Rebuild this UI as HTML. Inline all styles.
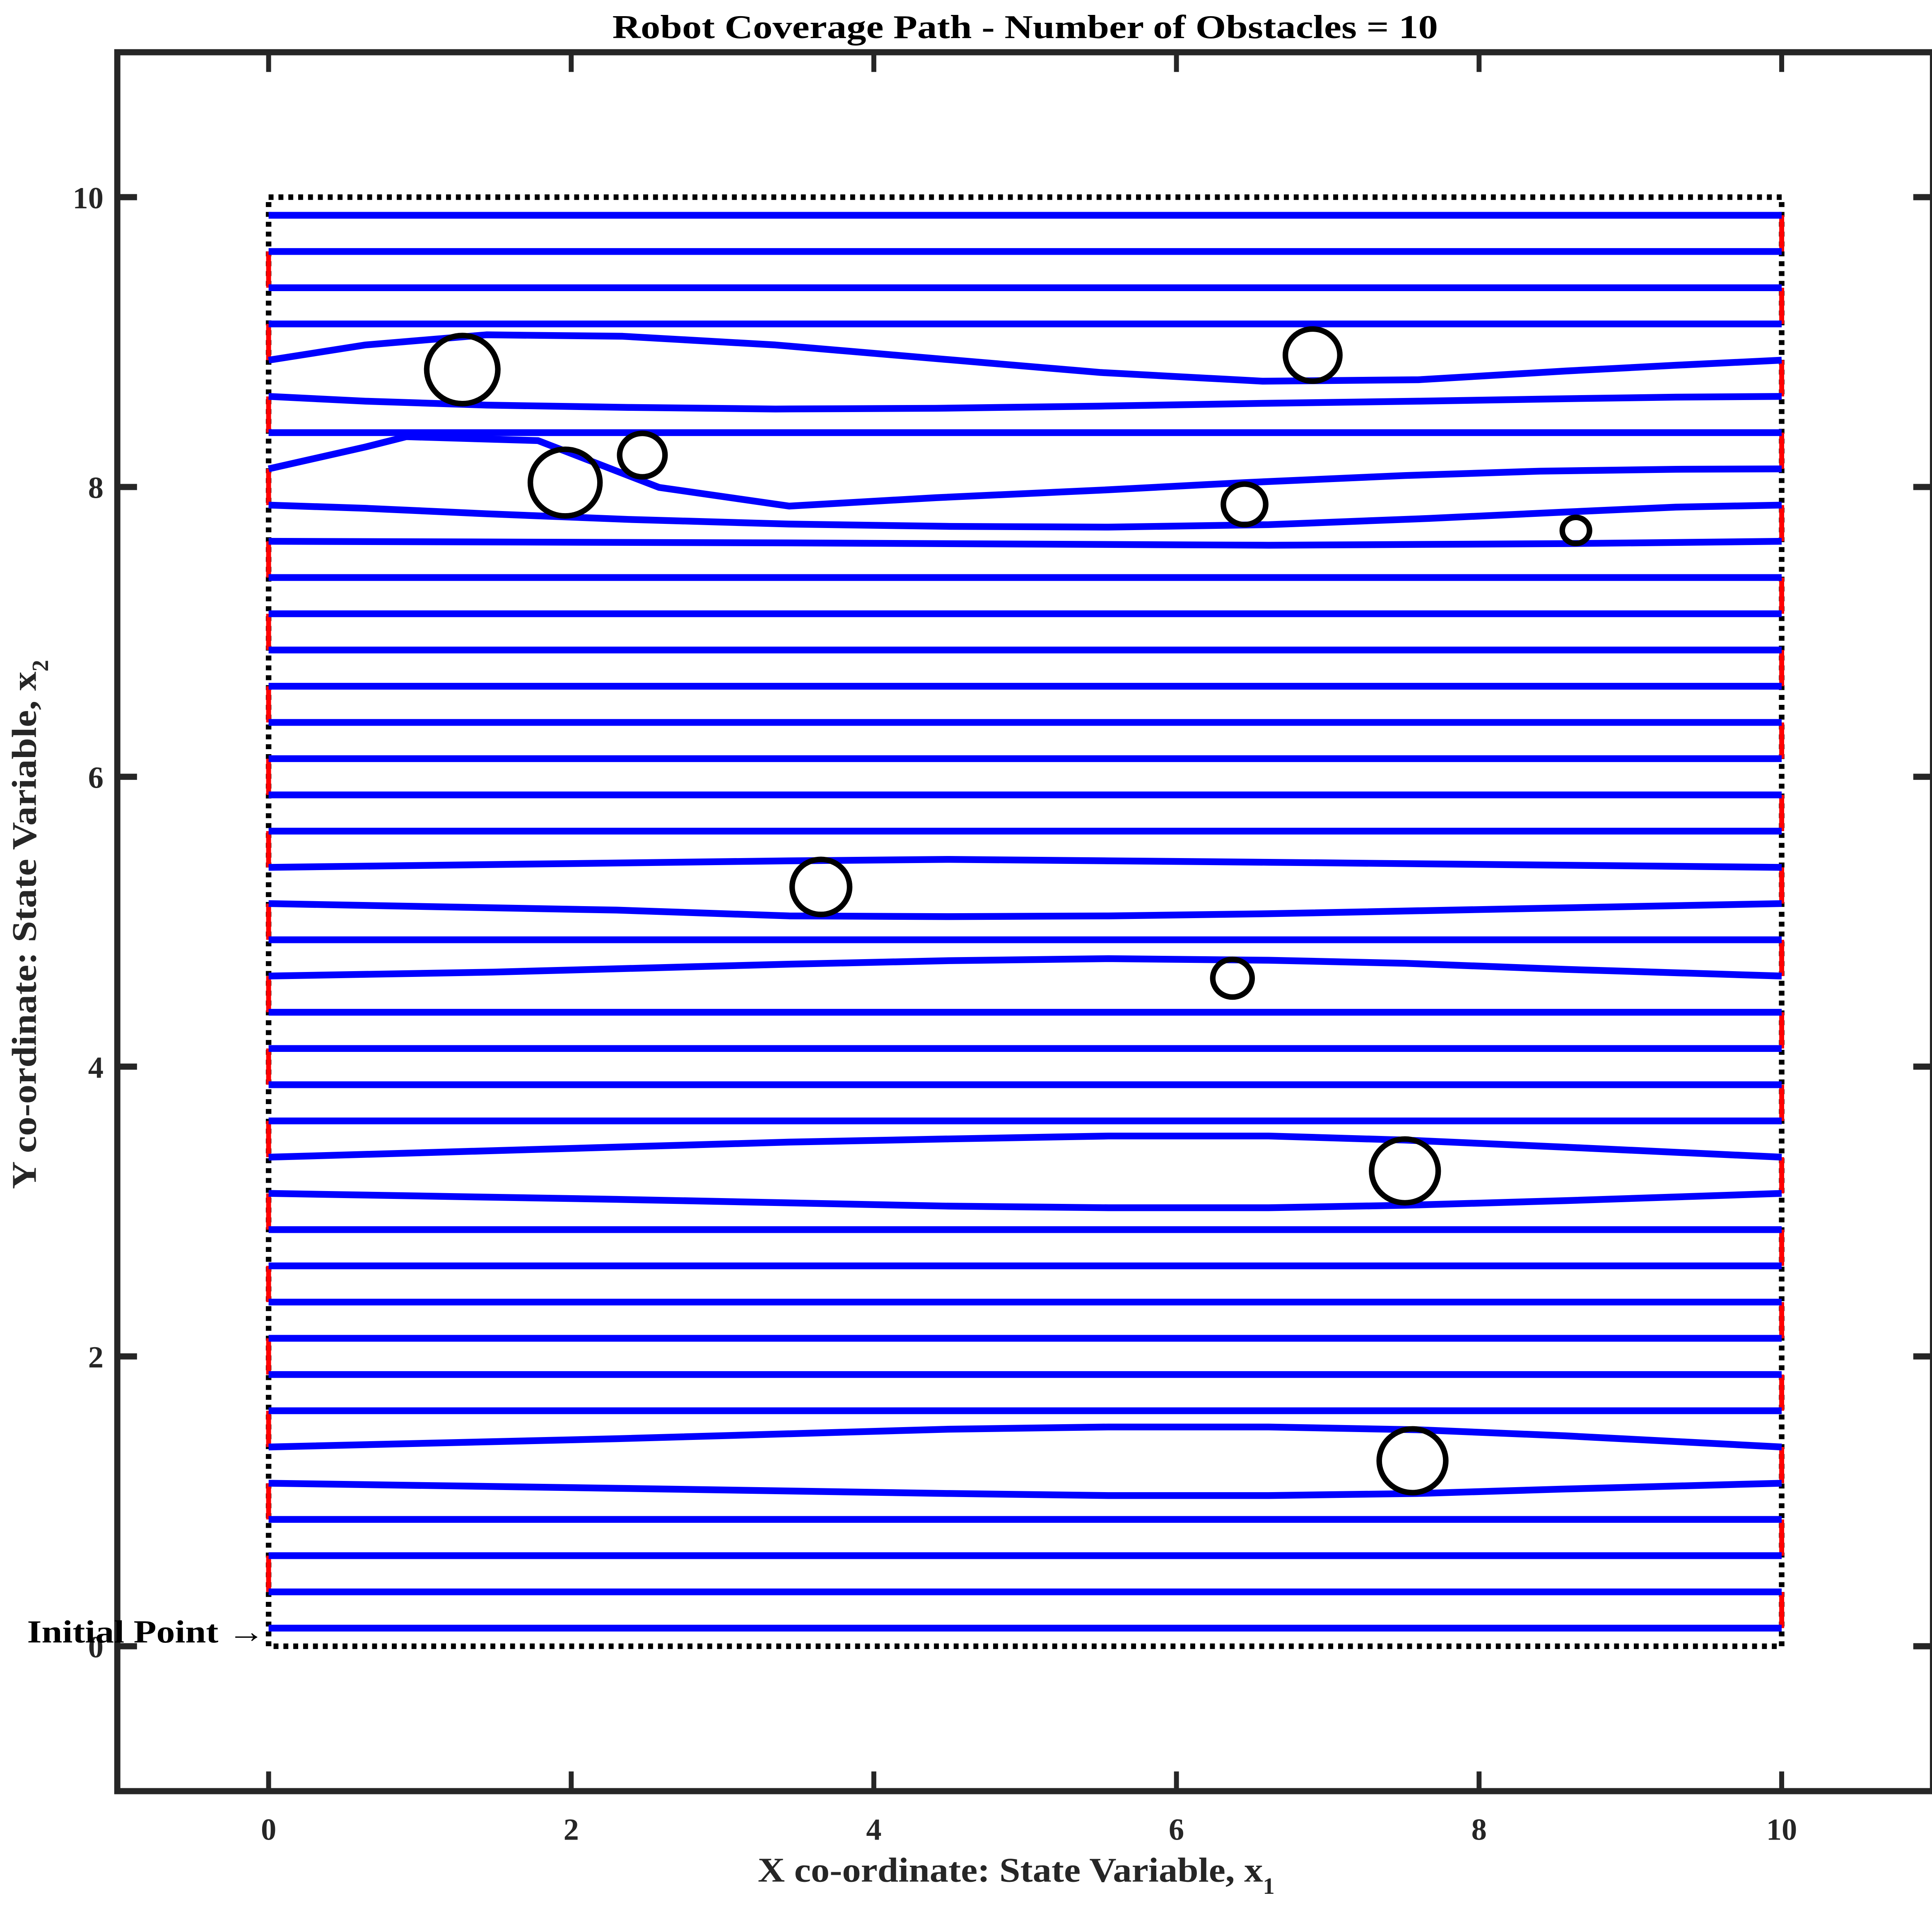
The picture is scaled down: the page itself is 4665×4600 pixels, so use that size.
<!DOCTYPE html>
<html><head><meta charset="utf-8"><style>
html,body{margin:0;padding:0;background:#fff;}
svg{display:block;}
text{font-family:"Liberation Serif",serif;font-weight:bold;}
</style></head><body>
<svg id="chart" width="4665" height="4600" viewBox="0 0 1568 1546" preserveAspectRatio="none" xmlns="http://www.w3.org/2000/svg">
<text x="832" y="31" text-anchor="middle" font-size="27" textLength="670" lengthAdjust="spacingAndGlyphs" fill="#000">Robot Coverage Path - Number of Obstacles = 10</text>
<g id="plot"></g>
<text x="615" y="1527" font-size="28" fill="#262626"><tspan textLength="410" lengthAdjust="spacingAndGlyphs">X co-ordinate: State Variable, x</tspan><tspan font-size="19" dy="10">1</tspan></text>
<text transform="translate(29,965) rotate(-90)" font-size="28" fill="#262626"><tspan textLength="420" lengthAdjust="spacingAndGlyphs">Y co-ordinate: State Variable, x</tspan><tspan font-size="19" dy="10">2</tspan></text>
<text x="22" y="1333" font-size="26" textLength="193" lengthAdjust="spacingAndGlyphs" fill="#000">Initial Point →</text>
</svg>
<script>
const xTicks = [0, 2, 4, 6, 8, 10];
const yTicks = [0, 2, 4, 6, 8, 10];
const rowCount = 40;
const rowStart = 0.125;
const rowStep = 0.25;
const obstacleX = [1.28, 6.90, 1.96, 2.47, 6.45, 8.64, 3.65, 6.37, 7.51, 7.56];
const obstacleY = [8.81, 8.91, 8.03, 8.22, 7.88, 7.70, 5.24, 4.61, 3.28, 1.28];
const obstacleR = [0.235, 0.18, 0.23, 0.15, 0.14, 0.09, 0.19, 0.13, 0.22, 0.22];
const detour35X = [0, 0.64, 1.44, 2.34, 3.35, 4.41, 5.50, 6.57, 7.60, 8.57, 9.30, 10];
const detour35Y = [8.875, 8.98, 9.05, 9.04, 8.98, 8.886, 8.79, 8.73, 8.74, 8.80, 8.84, 8.875];
const detour34X = [0, 0.64, 1.44, 2.38, 3.35, 4.41, 5.50, 6.57, 7.60, 8.57, 9.30, 10];
const detour34Y = [8.625, 8.592, 8.565, 8.549, 8.538, 8.543, 8.558, 8.577, 8.592, 8.609, 8.620, 8.625];
const detour32X = [0, 0.64, 0.91, 1.78, 2.58, 3.44, 4.41, 5.50, 6.45, 7.51, 8.40, 9.30, 10];
const detour32Y = [8.125, 8.276, 8.347, 8.320, 7.997, 7.868, 7.926, 7.978, 8.030, 8.079, 8.109, 8.122, 8.125];
const detour31X = [0, 0.64, 1.44, 2.38, 3.44, 4.50, 5.55, 6.61, 7.67, 8.57, 9.30, 10];
const detour31Y = [7.875, 7.853, 7.815, 7.776, 7.744, 7.728, 7.723, 7.740, 7.783, 7.827, 7.861, 7.875];
const detour30X = [0, 3.44, 6.61, 8.57, 10];
const detour30Y = [7.625, 7.614, 7.598, 7.609, 7.625];
const detour21X = [0, 3.44, 4.50, 5.55, 6.61, 10];
const detour21Y = [5.375, 5.42, 5.43, 5.42, 5.41, 5.375];
const detour20X = [0, 2.30, 3.44, 4.50, 5.55, 6.61, 10];
const detour20Y = [5.125, 5.08, 5.04, 5.035, 5.04, 5.055, 5.125];
const detour18X = [0, 1.48, 3.44, 4.50, 5.55, 6.61, 7.51, 8.57, 10];
const detour18Y = [4.625, 4.652, 4.707, 4.731, 4.745, 4.734, 4.713, 4.671, 4.625];
const detour13X = [0, 3.44, 4.50, 5.55, 6.61, 7.51, 8.57, 10];
const detour13Y = [3.375, 3.479, 3.501, 3.521, 3.521, 3.493, 3.444, 3.375];
const detour12X = [0, 2.30, 4.50, 5.55, 6.61, 7.51, 8.57, 10];
const detour12Y = [3.125, 3.084, 3.037, 3.026, 3.026, 3.043, 3.075, 3.125];
const detour5X = [0, 2.30, 4.50, 5.55, 6.61, 7.59, 8.57, 10];
const detour5Y = [1.375, 1.432, 1.498, 1.513, 1.513, 1.494, 1.452, 1.375];
const detour4X = [0, 2.30, 4.50, 5.55, 6.61, 7.59, 8.57, 10];
const detour4Y = [1.125, 1.09, 1.054, 1.04, 1.04, 1.054, 1.085, 1.125];
const detourRows = {35:[detour35X,detour35Y],34:[detour34X,detour34Y],32:[detour32X,detour32Y],31:[detour31X,detour31Y],30:[detour30X,detour30Y],21:[detour21X,detour21Y],20:[detour20X,detour20Y],18:[detour18X,detour18Y],13:[detour13X,detour13Y],12:[detour12X,detour12Y],5:[detour5X,detour5Y],4:[detour4X,detour4Y]};

const NS = "http://www.w3.org/2000/svg";
const g = document.getElementById('plot');
const X0 = 95.2, X1 = 1568.8, XMIN = -1, XMAX = 11;
const Y0 = 1453.6, Y1 = 42.4, YMIN = -1, YMAX = 11;
function sx(v){ return X0 + (v - XMIN) / (XMAX - XMIN) * (X1 - X0); }
function sy(v){ return Y0 + (v - YMIN) / (YMAX - YMIN) * (Y1 - Y0); }
function mk(tag, attrs){ const e = document.createElementNS(NS, tag); for (const k in attrs) e.setAttribute(k, attrs[k]); g.appendChild(e); return e; }

const b = mk('rect', {x: sx(0), y: sy(10), width: sx(10)-sx(0), height: sy(0)-sy(10), fill:'none', stroke:'#000', 'stroke-width':4.5, 'stroke-dasharray':'4 4'});



for (let k = 0; k < rowCount - 1; k++) {
  const xe = (k % 2 === 0) ? 10 : 0;
  const ya = rowStart + k*rowStep, yb = rowStart + (k+1)*rowStep;
  const r = mk('line', {x1: sx(xe), x2: sx(xe), y1: sy(ya), y2: sy(yb), stroke:'#ff0000', 'stroke-width':4});
  
  
}
for (let k = 0; k < rowCount; k++) {
  const yv = rowStart + k*rowStep;
  let xs = [0, 10], ys = [yv, yv];
  if (detourRows[k]) { xs = detourRows[k][0]; ys = detourRows[k][1]; }
  const pts = xs.map((x,i) => sx(x).toFixed(2) + ',' + sy(ys[i]).toFixed(2)).join(' ');
  const p = mk('polyline', {points: pts, fill:'none', stroke:'#0000ff', 'stroke-width':5.5, 'stroke-linejoin':'round'});
  
  
}
for (let i = 0; i < obstacleX.length; i++) {
  const c = mk('ellipse', {cx: sx(obstacleX[i]), cy: sy(obstacleY[i]), rx: sx(obstacleR[i]) - sx(0), ry: sy(0) - sy(obstacleR[i]), fill:'none', stroke:'#000', 'stroke-width':4.5});
  
  
}
const ax = mk('rect', {x: X0, y: Y1, width: X1-X0, height: Y0-Y1, fill:'none', stroke:'#262626', 'stroke-width':5});


const TL = 16;
xTicks.forEach(t => {
  const a = mk('line', {x1: sx(t), x2: sx(t), y1: Y0, y2: Y0-TL, stroke:'#262626', 'stroke-width':4});
  
  
  const a2 = mk('line', {x1: sx(t), x2: sx(t), y1: Y1, y2: Y1+TL, stroke:'#262626', 'stroke-width':4});
  
  
  const l = mk('text', {x: sx(t), y: 1493, 'text-anchor':'middle', 'font-size':25, fill:'#262626'});
  l.textContent = t;
  
  
});
yTicks.forEach(t => {
  const a = mk('line', {x1: X0, x2: X0+TL, y1: sy(t), y2: sy(t), stroke:'#262626', 'stroke-width':5});
  
  
  const a2 = mk('line', {x1: X1, x2: X1-TL, y1: sy(t), y2: sy(t), stroke:'#262626', 'stroke-width':5});
  
  
  const l = mk('text', {x: 84, y: sy(t)+9, 'text-anchor':'end', 'font-size':25, fill:'#262626'});
  l.textContent = t;
  
  
});
</script>
</body></html>
